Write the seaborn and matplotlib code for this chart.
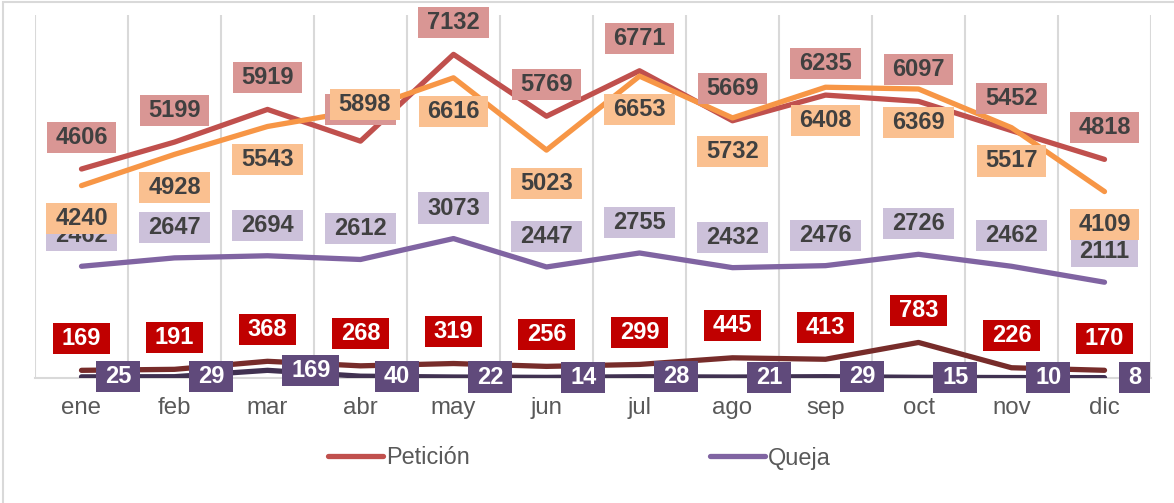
import numpy as np
import pandas as pd
import matplotlib
matplotlib.use("Agg")
import matplotlib.pyplot as plt
from matplotlib.path import Path
from matplotlib.lines import Line2D
from matplotlib.patches import Rectangle
import seaborn as sns

# Datos
meses = ["ene", "feb", "mar", "abr", "may", "jun", "jul", "ago", "sep", "oct", "nov", "dic"]
peticion = [4606, 5199, 5919, 5220, 7132, 5769, 6771, 5669, 6235, 6097, 5452, 4818]
solicitud = [4240, 4928, 5543, 5898, 6616, 5023, 6653, 5732, 6408, 6369, 5517, 4109]
queja = [2462, 2647, 2694, 2612, 3073, 2447, 2755, 2432, 2476, 2726, 2462, 2111]
reclamo = [169, 191, 368, 268, 319, 256, 299, 445, 413, 783, 226, 170]
sugerencia = [25, 29, 169, 40, 22, 14, 28, 21, 29, 15, 10, 8]

sns.set_theme(style="white")
plt.rcParams["font.family"] = ["Liberation Sans", "DejaVu Sans"]

fig = plt.figure(figsize=(11.74, 5.03), dpi=100)
ax = fig.add_axes([35 / 1174, 1 - 378 / 503, (1151 - 35) / 1174, (378 - 15) / 503])

# borde exterior gris
fig.patches.append(Rectangle((3 / 1174, -0.1), 1.2, 1 - 2 / 503 + 0.1, transform=fig.transFigure,
                             fill=False, edgecolor="#D9D9D9", lw=1.5))


def caja(x0, y0, w, h, mutation_size):
    px, py = 0.37 * mutation_size, 0.17 * mutation_size
    return Path([(x0 - px, y0 - py), (x0 + w + px, y0 - py), (x0 + w + px, y0 + h + py),
                 (x0 - px, y0 + h + py), (x0 - px, y0 - py)], closed=True)


# (nombre, valores, color línea, color caja, color texto, desplazamiento, alineación)
series = [
    ("Petición", peticion, "#C0504D", "#D99694", "#404040", (0, 23), "center"),
    ("Queja", queja, "#8064A2", "#CCC1DA", "#404040", (0, 22), "center"),
    ("Solicitud", solicitud, "#F79646", "#FAC090", "#404040", (0, -24), "center"),
    ("Reclamo", reclamo, "#772C2A", "#C00000", "white", (0, 23), "center"),
    ("Sugerencia", sugerencia, "#403151", "#604A7B", "white", (17, 0), "left"),
]
# la etiqueta de abr de Solicitud está movida hacia arriba en el original
ajustes = {("Solicitud", 3): (3, 4)}

for nombre, vals, col, *_ in series:
    df = pd.DataFrame({"mes": meses, "valor": vals})
    sns.lineplot(data=df, x="mes", y="valor", color=col, lw=3.8, ax=ax,
                 solid_capstyle="round", sort=False, zorder=3)

for nombre, vals, col, caja_col, txt_col, off, ha in series:
    for i, v in enumerate(vals):
        ax.annotate(f"{v}", (i, v), xytext=ajustes.get((nombre, i), off), textcoords="offset points",
                    ha=ha, va="center", fontsize=17, fontweight="bold", color=txt_col,
                    bbox=dict(boxstyle=caja, fc=caja_col, ec="none"), zorder=5)

ax.set_ylim(0, 8000)
ax.set_xlim(-0.5, 11.5)
ax.set_yticks([])
ax.set_xticks(range(12), meses)
ax.set_xticks(np.arange(-0.5, 12, 1), minor=True)
ax.grid(which="minor", axis="x", color="#D9D9D9", lw=1.5)
ax.grid(which="major", visible=False)
ax.tick_params(which="minor", axis="x", length=7, color="#D9D9D9", width=1.5)
ax.tick_params(which="major", axis="x", length=0, pad=14, labelsize=17.3, labelcolor="#595959")
ax.set_xlabel("")
ax.set_ylabel("")
for s in ["left", "right", "top"]:
    ax.spines[s].set_visible(False)
ax.spines["bottom"].set_color("#D9D9D9")
ax.spines["bottom"].set_linewidth(1.5)

handles = [Line2D([], [], color="#C0504D", lw=3.8, solid_capstyle="round"),
           Line2D([], [], color="#8064A2", lw=3.8, solid_capstyle="round")]
fig.legend(handles, ["Petición", "Queja"], loc="center", bbox_to_anchor=(0.4935, 1 - 458 / 503),
           ncol=2, frameon=False, fontsize=16.9, handlelength=2.35, handletextpad=0.15,
           columnspacing=10.2, labelcolor="#595959")

fig.savefig("out.png", dpi=100)
